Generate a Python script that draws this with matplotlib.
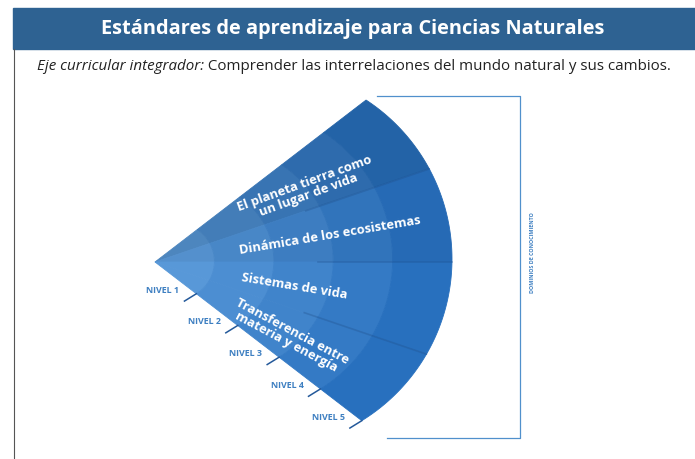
import numpy as np
import matplotlib
matplotlib.use('Agg')
import matplotlib.pyplot as plt
from matplotlib.patches import Polygon, Rectangle

# --- contenido ---
titulo = "Estándares de aprendizaje para Ciencias Naturales"
eje_label = "Eje curricular integrador:"
eje_texto = " Comprender las interrelaciones del mundo natural y sus cambios."
dominios = ["El planeta tierra como\nun lugar de vida",
            "Dinámica de los ecosistemas",
            "Sistemas de vida",
            "Transferencia entre\nmateria y energía"]
niveles = ["NIVEL 1", "NIVEL 2", "NIVEL 3", "NIVEL 4", "NIVEL 5"]
eje_vertical = "DOMINIOS DE CONOCIMIENTO"

# --- geometria del abanico (pixeles, y hacia abajo) ---
APEX = np.array([155.0, 262.0])
ARC_C = np.array([262.0, 259.0])
ARC_R = 190.0
HALF = 37.5
label_ang = [25.5, 8.5, -10.0, -29.0]
label_r = [168, 177, 142, 154]
label_rot = [20, 9.5, -9.5, -28]

light = np.array([88, 152, 216]) / 255
dark = np.array([40, 112, 190]) / 255
sector_shade = [0.88, 0.95, 1.0, 1.0]


def unit(deg):
    a = np.radians(deg)
    return np.array([np.cos(a), -np.sin(a)])


def rho(deg):
    u = unit(deg)
    d = APEX - ARC_C
    b = u @ d
    return -b + np.sqrt(b * b - d @ d + ARC_R ** 2)


def point(deg, frac):
    return APEX + frac * rho(deg) * unit(deg)


fig = plt.figure(figsize=(6.95, 4.59), dpi=100)
fig.patch.set_facecolor('white')
ax = fig.add_axes([0, 0, 1, 1])
ax.set_xlim(0, 695)
ax.set_ylim(459, 0)
ax.axis('off')

# barra de titulo
ax.add_patch(Rectangle((13, 8), 695 - 13, 41, color='#2e6292', zorder=1))
ax.text(353, 29, titulo, color='white', fontsize=14.4, fontweight='bold',
        family='Open Sans', ha='center', va='center', zorder=2)
ax.plot([14, 14], [49, 459], color='#555555', lw=0.8)

# subtitulo
t1 = ax.text(37, 70, eje_label, fontsize=10.9, style='italic', family='Open Sans',
             color='#222222', ha='left', va='baseline')
fig.canvas.draw()
bb = t1.get_window_extent().transformed(ax.transData.inverted())
ax.text(bb.x1, 70, eje_texto, fontsize=10.9, family='Open Sans', color='#222222',
        ha='left', va='baseline')

# celdas del abanico: dominios x niveles
n_dom = len(dominios)
n_niv = len(niveles)
edges = np.linspace(HALF, -HALF, n_dom + 1)
for i in range(n_dom):
    angs = np.linspace(edges[i], edges[i + 1], 40)
    for k in range(n_niv):
        f0, f1 = k / n_niv, (k + 1) / n_niv
        outer = [point(a, f1) for a in angs]
        inner = [point(a, f0) for a in angs[::-1]]
        t = k / (n_niv - 1)
        col = (light * (1 - t) + dark * t) * sector_shade[i]
        ax.add_patch(Polygon(outer + inner, closed=True, facecolor=col,
                             edgecolor=col, lw=0.6, zorder=3))

# lineas entre dominios
for e in edges[1:-1]:
    p0, p1 = point(e, 0.55), point(e, 1.0)
    ax.plot([p0[0], p1[0]], [p0[1], p1[1]], color='#1b4a85', lw=1.2,
            alpha=0.3, zorder=4)

# textos de dominios
for i, txt in enumerate(dominios):
    p = APEX + label_r[i] * unit(label_ang[i])
    ax.text(p[0], p[1], txt, color='white', fontsize=9.3, fontweight='bold',
            family='Open Sans', ha='center', va='center', rotation=label_rot[i],
            rotation_mode='anchor', linespacing=0.95, multialignment='center',
            zorder=5)

# marcas de nivel en el borde inferior
outer_low = point(-HALF, 1.0)
nrm = (outer_low - ARC_C) / np.linalg.norm(outer_low - ARC_C)
tang = np.array([-nrm[1], nrm[0]])
if tang[0] > 0:
    tang = -tang
for k, lab in enumerate(niveles):
    p = point(-HALF, (k + 1) / n_niv)
    q = p + 14 * tang
    ax.plot([p[0], q[0]], [p[1], q[1]], color='#24599a', lw=1.1, zorder=4)
    ax.text(q[0] - 5, q[1] - 11, lab, color='#3d7fc1', fontsize=6.4,
            fontweight='bold', family='Open Sans', ha='right', va='center')

# corchete de dominios
ax.plot([377, 520, 520, 387], [96, 96, 438, 438], color='#5090cc', lw=0.9)
ax.text(533, 253, eje_vertical, rotation=90, color='#3d7fc1', fontsize=3.9,
        fontweight='bold', family='Open Sans', ha='center', va='center')

fig.savefig('out.png', dpi=100)
plt.close(fig)
